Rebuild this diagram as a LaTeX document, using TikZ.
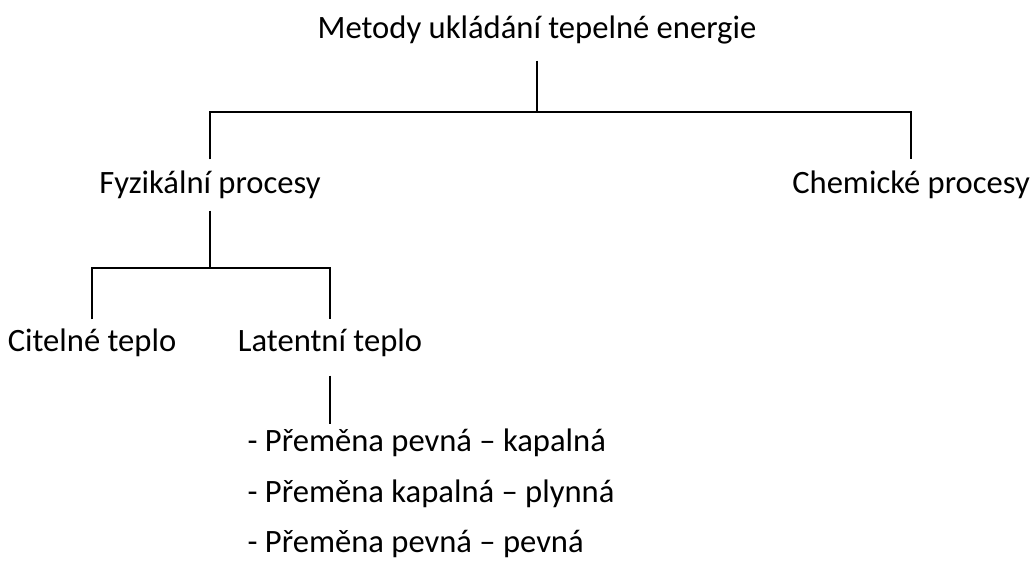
\documentclass[tikz,border=0pt]{standalone}
\usepackage{fontspec}
\setmainfont{Carlito}
\begin{document}
\begin{tikzpicture}[x=1pt, y=-1pt, line width=1.3pt,
    main/.style = {font=\fontsize{32.6}{38}\selectfont, inner sep=0pt, minimum height=50pt},
    item/.style = {font=\fontsize{32.6}{38}\selectfont, inner sep=0pt, anchor=west}]

    \useasboundingbox (0,0) rectangle (1034,564);

    \node[main, minimum height=60pt] (root) at (537,30) {Metody ukládání tepelné energie};
    \node[main] (fyz) at (210,185) {Fyzikální procesy};
    \node[main] (chem) at (911,185) {Chemické procesy};
    \node[main, minimum height=46pt] (cit) at (92,343) {Citelné teplo};
    \node[main, minimum height=46pt] (lat) at (330,343) {Latentní teplo};

    \node[item] (it1) at (247,443) {- Přeměna pevná – kapalná};
    \node[item] (it2) at (247,494) {- Přeměna kapalná – plynná};
    \node[item] (it3) at (247,544) {- Přeměna pevná – pevná};

    \coordinate (b1) at (537,112);
    \coordinate (b2) at (210,268);

    \draw (root.south) -- (b1);
    \draw (fyz.north) |- (b1) -| (chem.north);
    \draw (fyz.south) -- (b2);
    \draw (cit.north) |- (b2) -| (lat.north);
    \draw[shorten >=4pt] ([yshift=-9pt]lat.south) -- (lat.south |- it1.north);

\end{tikzpicture}
\end{document}
